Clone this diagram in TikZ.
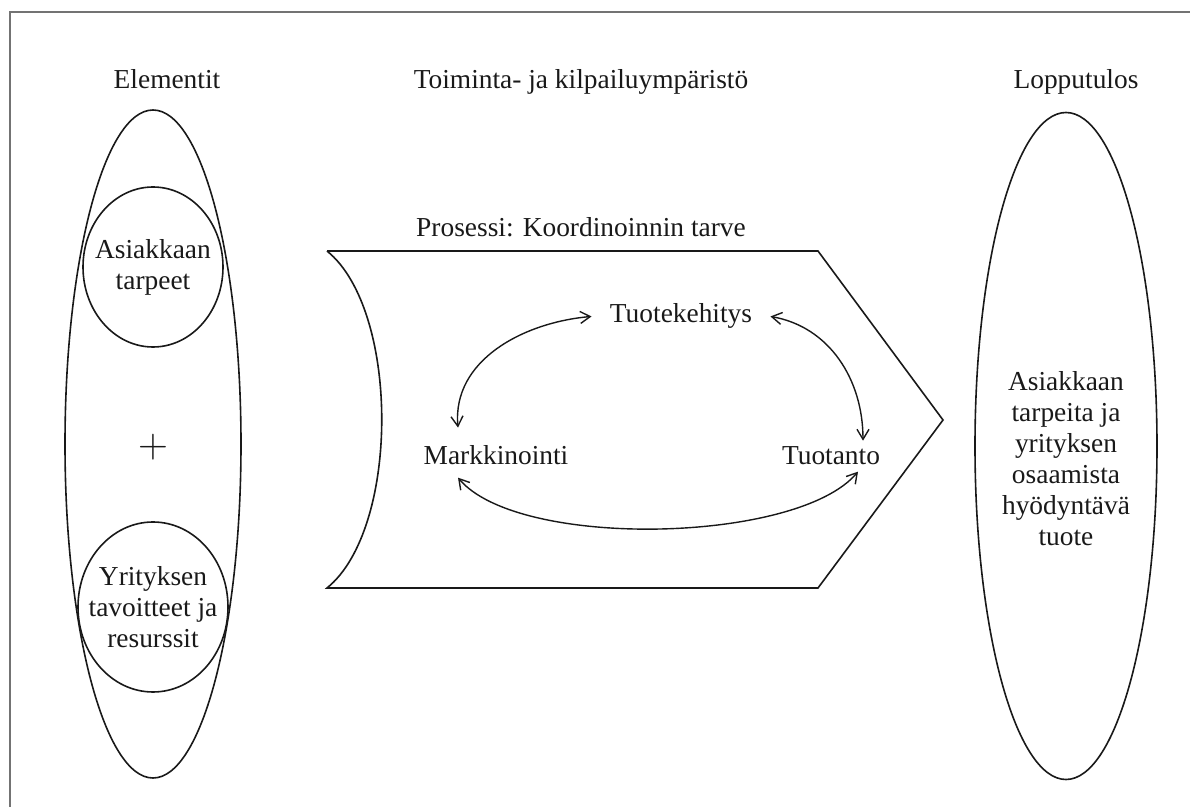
\documentclass[tikz,border=0pt]{standalone}
\usepackage{fontspec}
\setmainfont{Liberation Serif}
\usepackage{xcolor}
\definecolor{inkblack}{RGB}{25,25,25}
\definecolor{framegray}{RGB}{115,115,115}
\usepackage{tikz}
\usetikzlibrary{arrows.meta, positioning, shapes.geometric}

\begin{document}
\begin{tikzpicture}[x=0.5pt, y=0.5pt, >={Straight Barb[length=5pt, width=6pt]},
    every node/.style={font=\fontsize{13.7}{15.5}\selectfont, text=inkblack},
    shell/.style={draw=inkblack, line width=0.8pt, ellipse, inner sep=0pt},
    link/.style={<->, draw=inkblack, line width=0.7pt}]

    \useasboundingbox (0,0) rectangle (1190,-807);
    \draw[framegray, line width=1pt] (1190,-12) -- (10,-12) -- (10,-807);

    \node[anchor=base] (elem) at (167,-89) {Elementit};
    \node[anchor=base] (env) at (581,-89) {Toiminta- ja kilpailuympäristö};
    \node[anchor=base] (outcome) at (1076,-89) {Lopputulos};

    % elementit
    \node[shell, minimum width=88pt, minimum height=334pt] (elemshell) at (153,-444) {};
    \node[shell, minimum width=70pt, minimum height=80pt] (needs) at (153,-267) {};
    \node[align=center] (needstext) at (needs) {Asiakkaan\\tarpeet};
    \node[font=\fontsize{20}{20}\selectfont] (plus) at (153,-447) {$+$};
    \node[shell, minimum width=75pt, minimum height=85pt] (goals) at (153,-607) {};
    \node[align=center] (goalstext) at (goals) {Yrityksen\\tavoitteet ja\\resurssit};

    % prosessi
    \coordinate (ptl) at (327,-251);
    \coordinate (ptr) at (818,-251);
    \coordinate (ptip) at (943,-420);
    \coordinate (pbr) at (818,-588);
    \coordinate (pbl) at (327,-588);
    \draw[inkblack, line width=0.8pt] (ptl) -- (ptr) -- (ptip) -- (pbr) -- (pbl)
        .. controls (400,-529) and (400,-310) .. (ptl);
    \node[anchor=base] (proc) at (581,-237) {Prosessi: Koordinoinnin tarve};

    \node[anchor=base, inner xsep=9pt] (dev) at (681,-323) {Tuotekehitys};
    \node[anchor=base, inner ysep=9pt] (mark) at (496,-465) {Markkinointi};
    \node[anchor=base, inner ysep=3pt] (prod) at (831,-465) {Tuotanto};

    \draw[link] ([xshift=-19pt]mark.north) to[out=95, in=185] (dev.west);
    \draw[link] (dev.east) to[out=-10, in=90] ([xshift=16pt]prod.north);
    \draw[link] ([xshift=-19pt, yshift=3pt]mark.south) to[out=-50, in=-130, looseness=0.6] ([xshift=13.5pt]prod.south);

    % lopputulos
    \node[shell, minimum width=91pt, minimum height=333.5pt] (resultshell) at (1066,-446) {};
    \node[align=center] (resulttext) at (1066,-459) {Asiakkaan\\tarpeita ja\\yrityksen\\osaamista\\hyödyntävä\\tuote};
\end{tikzpicture}
\end{document}
